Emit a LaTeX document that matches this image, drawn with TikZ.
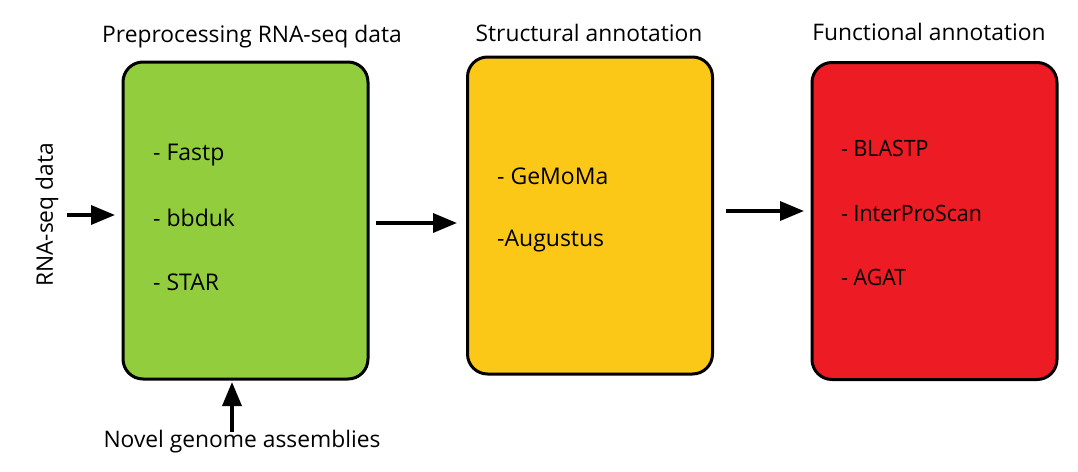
\documentclass[tikz,border=0pt]{standalone}
\usepackage{graphicx}
\usepackage{fontspec}
\setmainfont{Open Sans}
\newcommand{\condtxt}[1]{\scalebox{0.95}[1]{#1}}
\usetikzlibrary{arrows.meta}
\definecolor{cgreen}{HTML}{92CD3E}
\definecolor{cyellow}{HTML}{FCC817}
\definecolor{cred}{HTML}{ED1C24}
\tikzset{
  stage/.style={draw=black, line width=3pt, rounded corners=20pt, minimum width=245pt, minimum height=317pt, inner sep=0pt},
  title/.style={font=\fontsize{22.8}{26}\selectfont, inner sep=0pt},
  item/.style={font=\fontsize{23}{26}\selectfont, anchor=west, inner sep=0pt},
  narrow/.style={font=\fontsize{22.5}{26}\selectfont},
  flow/.style={line width=3.5pt, -{Triangle[length=24pt,width=19pt]}},
}
\begin{document}
\begin{tikzpicture}[x=1pt,y=-1pt]
\useasboundingbox (0,0) rectangle (1078,471);
\fill[white] (0,0) rectangle (1078,471);
% boxes
\node[stage, fill=cgreen] (pre) at (245.5,220.5) {};
\node[stage, fill=cyellow] (str) at (590,215.5) {};
\node[stage, fill=cred] (fun) at (934.5,221) {};
% titles
\node[title] (tpre) at (252,37) {Preprocessing RNA-seq data};
\node[title] (tstr) at (589,33) {Structural annotation};
\node[title] (tfun) at (929,32) {Functional annotation};
% items
\node[item] (i1) at (153,155) {- Fastp};
\node[item] (i2) at (153,218) {- bbduk};
\node[item] (i3) at (153,282) {- STAR};
\node[item] (j1) at (497,176) {- GeMoMa};
\node[item] (j2) at (497,241) {-Augustus};
\node[item, narrow] (k1) at (841,148) {\condtxt{- BLASTP}};
\node[item, narrow] (k2) at (841,213) {\condtxt{- InterProScan}};
\node[item, narrow] (k3) at (841,277) {\condtxt{- AGAT}};
% inputs
\node[title, rotate=90] (rna) at (47,215) {RNA-seq data};
\node[title] (nov) at (242,442) {Novel genome assemblies};
\coordinate (rnas) at (67,215);
\coordinate (rnae) at (115,215);
\coordinate (novs) at (232,432);
\coordinate (nove) at (232,382);
\coordinate (a1s) at (376,223);
\coordinate (a1e) at (457,223);
\coordinate (a2s) at (726,211);
\coordinate (a2e) at (804,211);
% connectors
\draw[flow] (rnas) -- (rnae);
\draw[flow] (novs) -- (nove);
\draw[flow] (a1s) -- (a1e);
\draw[flow] (a2s) -- (a2e);
\end{tikzpicture}
\end{document}
